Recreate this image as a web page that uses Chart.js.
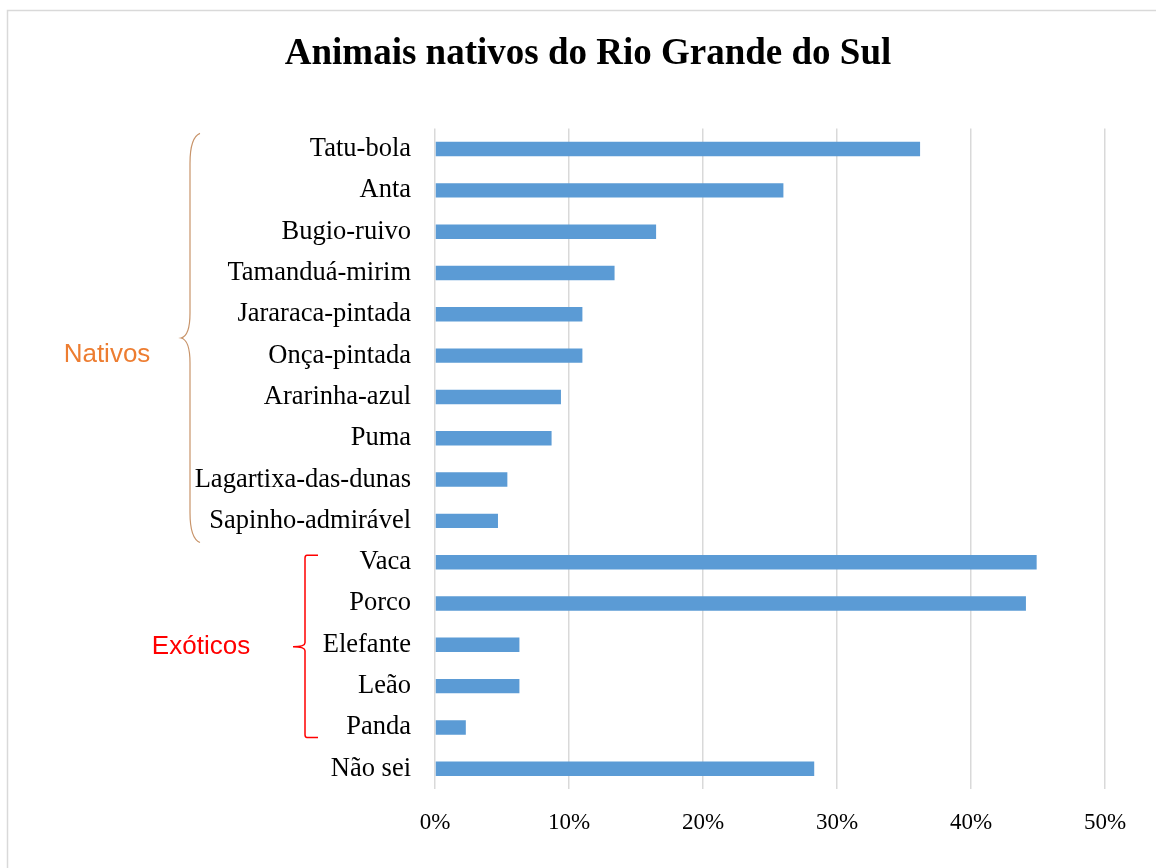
<!DOCTYPE html>
<html lang="pt">
<head>
  <meta charset="UTF-8">
  <title>Animais nativos do Rio Grande do Sul</title>
  <script src="https://cdn.jsdelivr.net/npm/chart.js"></script>
  <style>
    html, body {
      margin: 0;
      padding: 0;
      background: #fff;
    }
    #wrap {
      width: 1156px;
      height: 868px;
    }
  </style>
</head>
<body>
  <div id="wrap">
    <canvas id="animalsChart" width="1156" height="868"></canvas>
  </div>

  <script>
    const chartTitle = "Animais nativos do Rio Grande do Sul";

    const animals = [
      "Tatu-bola", "Anta", "Bugio-ruivo", "Tamanduá-mirim", "Jararaca-pintada",
      "Onça-pintada", "Ararinha-azul", "Puma", "Lagartixa-das-dunas", "Sapinho-admirável",
      "Vaca", "Porco", "Elefante", "Leão", "Panda", "Não sei"
    ];
    const shares = [
      0.362, 0.260, 0.165, 0.134, 0.110,
      0.110, 0.094, 0.087, 0.054, 0.047,
      0.449, 0.441, 0.063, 0.063, 0.023, 0.283
    ];
    const xTicks = [0, 0.1, 0.2, 0.3, 0.4, 0.5];

    // groups drawn as braces on the left: [label, first index, last index]
    const nativeGroup = ["Nativos", 0, 9];
    const exoticGroup = ["Exóticos", 10, 14];

    const serif = "'Liberation Serif', 'Times New Roman', serif";
    const sans = "'Liberation Sans', Arial, sans-serif";

    // frame, curly brace and bracket for the groups
    const groupsPlugin = {
      id: "groups",
      afterDraw(chart) {
        const ctx = chart.ctx;
        const y = chart.scales.y;
        const band = y.getPixelForValue(1) - y.getPixelForValue(0);

        ctx.save();
        // outer frame (only top/left edges fall inside the page)
        ctx.strokeStyle = "#d9d9d9";
        ctx.lineWidth = 1.5;
        ctx.strokeRect(7.5, 10.5, 1160, 870);

        // native brace
        let top = y.getPixelForValue(nativeGroup[1]) - band / 2 + 5;
        let bot = y.getPixelForValue(nativeGroup[2]) + band / 2 + 1;
        let mid = (top + bot) / 2;
        const bx = 190, tipX = 181, endX = 200;
        ctx.strokeStyle = "#c8946a";
        ctx.lineWidth = 1.2;
        ctx.beginPath();
        ctx.moveTo(endX, top);
        ctx.quadraticCurveTo(bx, top + 4, bx, top + 30);
        ctx.lineTo(bx, mid - 25);
        ctx.quadraticCurveTo(bx, mid - 2, tipX, mid);
        ctx.quadraticCurveTo(bx, mid + 2, bx, mid + 25);
        ctx.lineTo(bx, bot - 30);
        ctx.quadraticCurveTo(bx, bot - 4, endX, bot);
        ctx.stroke();

        ctx.fillStyle = "#ed7d31";
        ctx.font = "26px " + sans;
        ctx.textAlign = "center";
        ctx.textBaseline = "middle";
        ctx.fillText(nativeGroup[0], 107, mid + 17);

        // exotic bracket
        top = y.getPixelForValue(exoticGroup[1]) - 7;
        bot = y.getPixelForValue(exoticGroup[2]) + 10;
        mid = y.getPixelForValue((exoticGroup[1] + exoticGroup[2]) / 2) + 2;
        const rx = 305, rEnd = 318, rTip = 293;
        ctx.strokeStyle = "#ff0000";
        ctx.lineWidth = 1.5;
        ctx.beginPath();
        ctx.moveTo(rEnd, top);
        ctx.lineTo(rx + 2, top);
        ctx.quadraticCurveTo(rx, top, rx, top + 3);
        ctx.lineTo(rx, mid - 4);
        ctx.quadraticCurveTo(rx, mid, rTip, mid);
        ctx.quadraticCurveTo(rx, mid, rx, mid + 4);
        ctx.lineTo(rx, bot - 3);
        ctx.quadraticCurveTo(rx, bot, rx + 2, bot);
        ctx.lineTo(rEnd, bot);
        ctx.stroke();

        ctx.fillStyle = "#ff0000";
        ctx.fillText(exoticGroup[0], 201, mid);
        ctx.restore();
      }
    };

    const ctx = document.getElementById("animalsChart").getContext("2d");

    new Chart(ctx, {
      type: "bar",
      data: {
        labels: animals,
        datasets: [{
          label: "Respostas",
          data: shares,
          backgroundColor: "#5b9bd5",
          categoryPercentage: 1,
          barPercentage: 0.35
        }]
      },
      options: {
        indexAxis: "y",
        responsive: false,
        animation: false,
        layout: {
          padding: { left: 71, right: 51, top: 14, bottom: 11 }
        },
        plugins: {
          legend: { display: false },
          tooltip: { enabled: false },
          title: {
            display: true,
            text: chartTitle,
            color: "#000",
            font: { family: serif, size: 37, weight: "bold" },
            padding: { top: 18, bottom: 52 }
          }
        },
        scales: {
          x: {
            min: 0,
            max: 0.5,
            afterBuildTicks(scale) {
              scale.ticks = xTicks.map(v => ({ value: v }));
            },
            grid: {
              color: "#d9d9d9",
              lineWidth: 1.5,
              drawTicks: false
            },
            border: { display: false },
            ticks: {
              color: "#000",
              padding: 20,
              font: { family: serif, size: 23 },
              callback: v => Math.round(v * 100) + "%"
            }
          },
          y: {
            afterFit(scale) {
              scale.width = 364;
            },
            grid: { display: false },
            border: { display: false },
            ticks: {
              color: "#000",
              padding: 16,
              font: { family: serif, size: 26.5 }
            }
          }
        }
      },
      plugins: [groupsPlugin]
    });
  </script>
</body>
</html>
